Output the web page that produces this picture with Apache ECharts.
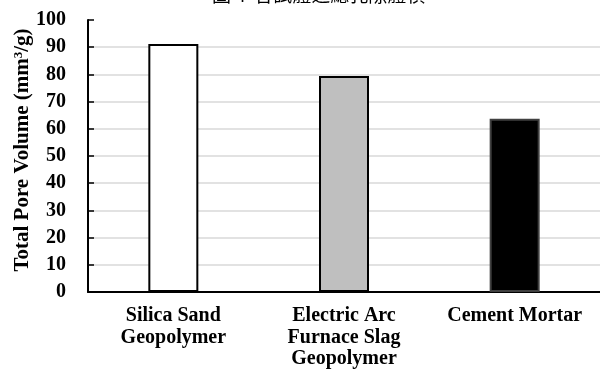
<!DOCTYPE html>
<html>
<head>
<meta charset="utf-8">
<script src="https://cdn.jsdelivr.net/npm/echarts@6/dist/echarts.min.js"></script>
<style>
    html, body { margin: 0; padding: 0; background: #fff; }
    #pore-volume { width: 600px; height: 371px; }
</style>
</head>
<body>
<div id="pore-volume"></div>
<script>
// 資料
var categories = ['Silica Sand\nGeopolymer', 'Electric Arc\nFurnace Slag\nGeopolymer', 'Cement Mortar'];
var poreVolume = [91.2, 79.4, 63.7];
var yTicks = [0, 10, 20, 30, 40, 50, 60, 70, 80, 90, 100];

var barFill = ['#ffffff', '#bfbfbf', '#000000'];
var barBorder = ['#000000', '#000000', '#404040'];

var chart = echarts.init(document.getElementById('pore-volume'));
var serif = '"Liberation Serif", "Times New Roman", serif';

// 最上面那條格線不畫
var gridColors = yTicks.map(function (v, i) {
    return i === yTicks.length - 1 ? 'rgba(0,0,0,0)' : '#d9d9d9';
});

var option = {
    animation: false,
    backgroundColor: '#fff',
    title: {
        text: '圖 4  各試體之總孔隙體積',
        left: 207,
        top: -20,
        textStyle: {
            fontFamily: '"Noto Sans CJK TC", sans-serif',
            fontSize: 19,
            fontWeight: 'normal',
            color: '#000'
        }
    },
    grid: {
        top: 20,
        left: 88,
        right: 0,
        bottom: 79,
        containLabel: false,
        outerBoundsMode: 'none'
    },
    xAxis: {
        type: 'category',
        data: categories,
        axisLine: { lineStyle: { color: '#000', width: 2 } },
        axisTick: { show: false },
        axisLabel: {
            interval: 0,
            margin: 13,
            color: '#000',
            fontFamily: serif,
            fontWeight: 'bold',
            fontSize: 20,
            lineHeight: 21.7
        }
    },
    yAxis: {
        type: 'value',
        min: yTicks[0],
        max: yTicks[yTicks.length - 1],
        interval: 10,
        name: 'Total Pore Volume (mm{sup|3}/g)',
        nameLocation: 'middle',
        nameGap: 54,
        nameMoveOverlap: false,
        nameTextStyle: {
            color: '#000',
            fontFamily: serif,
            fontWeight: 'bold',
            fontSize: 21,
            padding: [0, 0, 0, 12],
            rich: {
                sup: {
                    fontFamily: serif,
                    fontWeight: 'bold',
                    fontSize: 13,
                    verticalAlign: 'top',
                    padding: [0, 0, 9, 0],
                    color: '#000'
                }
            }
        },
        axisLine: { show: true, lineStyle: { color: '#000', width: 2 } },
        axisTick: { show: true, inside: true, length: 6, lineStyle: { color: '#000', width: 1.5 } },
        splitLine: { lineStyle: { color: gridColors, width: 1.5 } },
        axisLabel: {
            margin: 22,
            color: '#000',
            fontFamily: serif,
            fontWeight: 'bold',
            fontSize: 20
        }
    },
    series: [
        {
            type: 'bar',
            barWidth: 50,
            data: poreVolume.map(function (v, i) {
                return {
                    value: v,
                    itemStyle: {
                        color: barFill[i],
                        borderColor: barBorder[i],
                        borderWidth: 2
                    }
                };
            })
        }
    ]
};

chart.setOption(option);
</script>
</body>
</html>
